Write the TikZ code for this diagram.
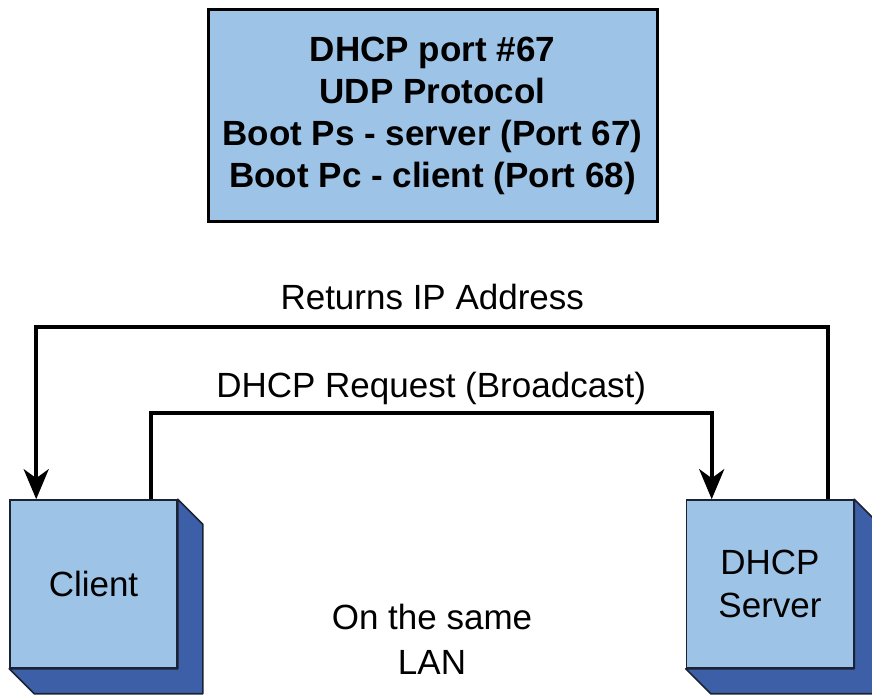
\documentclass[tikz,border=0pt]{standalone}
\usepackage{fontspec}
\setmainfont{Liberation Sans}
\usetikzlibrary{positioning,arrows.meta}
\definecolor{paleblue}{HTML}{9DC3E6}
\definecolor{deepblue}{HTML}{3D5FA8}
\definecolor{edgeblue}{HTML}{1A2233}

\tikzset{
  hostbox/.style={draw=edgeblue, fill=paleblue, line width=1.6pt, minimum width=167pt, minimum height=168pt, align=center, font=\fontsize{35}{43}\selectfont},
  flow/.style={line width=4pt, -{Stealth[length=30pt, width=25pt, inset=9pt]}},
  flowlabel/.style={anchor=base, font=\fontsize{35}{43}\selectfont}
}

\begin{document}
\begin{tikzpicture}[x=1pt,y=1pt]
\useasboundingbox (0,0) rectangle (872,695);
% port info
\node[draw=black, fill=paleblue, line width=3pt, minimum width=449pt, minimum height=212pt, align=center, font=\bfseries\fontsize{35}{42}\selectfont] (info) at (432.5,579) {DHCP port \#67\\UDP Protocol\\Boot Ps - server (Port 67)\\Boot Pc - client (Port 68)};

% hosts
\node[hostbox] (client) at (93.5,111) {Client};
\node[hostbox] (server) at (770,111) {DHCP\\Server};
\foreach \h in {client,server}{
  \filldraw[fill=deepblue, draw=edgeblue, line width=1.6pt, line join=round] (\h.north east) -- ++(25,-25) -- ([shift={(25,-25)}]\h.south east) -- ([shift={(25,-25)}]\h.south west) -- (\h.south west) -- (\h.south east) -- cycle;
}

% messages
\draw[flow] ([xshift=-26pt]server.north east) -- ++(0,172) -| node[pos=0.25, flowlabel, yshift=18pt] {Returns IP Address} ([xshift=27pt]client.north west);
\draw[flow] ([xshift=-27pt]client.north east) -- ++(0,86) -| node[pos=0.25, flowlabel, yshift=16pt] {DHCP Request (Broadcast)} ([xshift=26pt]server.north west);

\node[align=center, font=\fontsize{35}{45}\selectfont] (lan) at (432,56) {On the same\\LAN};
\end{tikzpicture}
\end{document}
